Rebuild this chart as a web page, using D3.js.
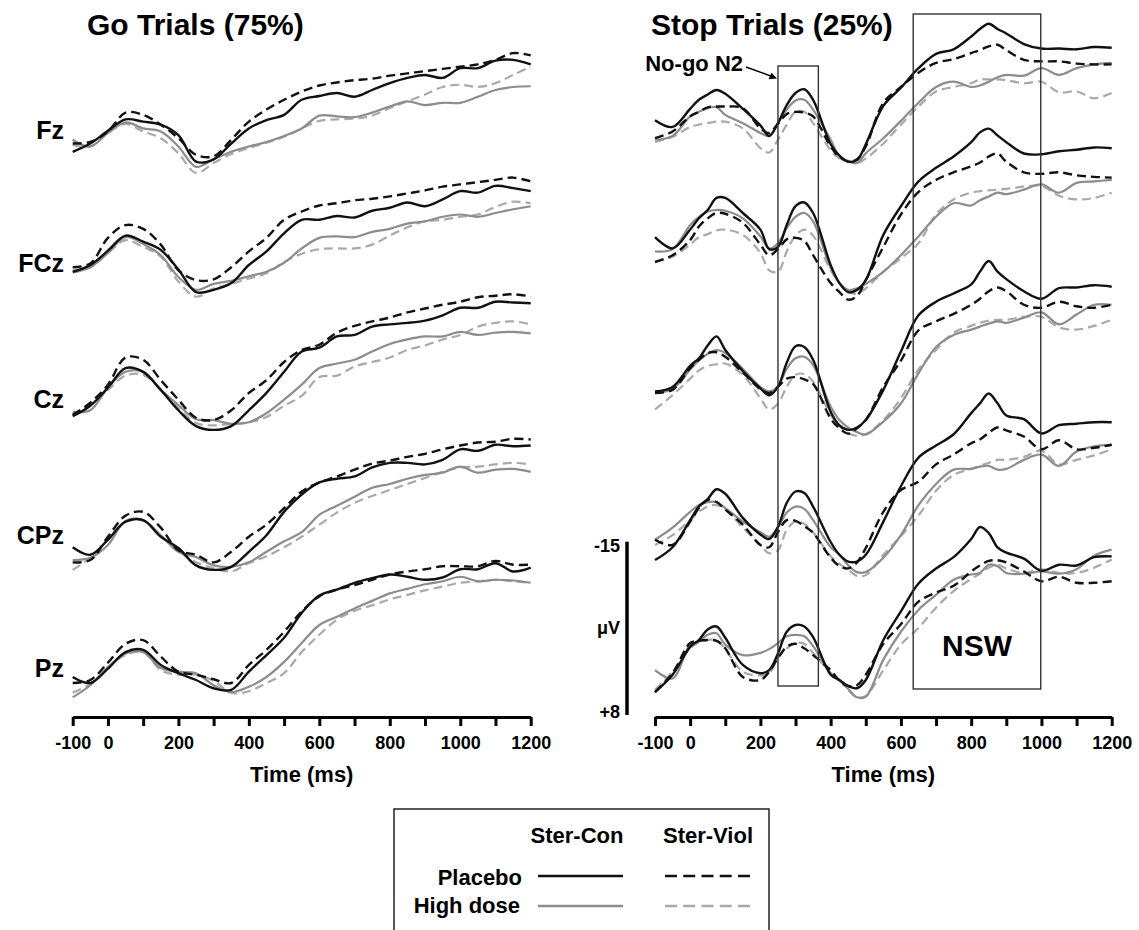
<!DOCTYPE html>
<html>
<head>
<meta charset="utf-8">
<script src="https://cdn.jsdelivr.net/npm/d3@7"></script>
<style>
body { margin: 0; background: #fff; }
text { font-family: "Liberation Sans", Arial, sans-serif; font-weight: bold; fill: #000; }
</style>
</head>
<body>
<svg id="chart" width="1139" height="930"></svg>
<script>
var electrodes = ["Fz", "FCz", "Cz", "CPz", "Pz"]

var goTimes = [-100, -50, 0, 50, 100, 150, 200, 250, 300, 350, 400, 450, 500, 550, 600,
    650, 700, 750, 800, 850, 900, 950, 1000, 1050, 1100, 1150, 1200]
var stopTimes = [-100, -50, 0, 25, 50, 75, 100, 150, 200, 225, 250, 275, 300, 325, 350,
    400, 425, 450, 475, 500, 550, 600, 650, 700, 750, 800, 825, 850, 875, 900,
    950, 1000, 1050, 1100, 1150, 1200]

// uV, one row per electrode (Fz, FCz, Cz, CPz, Pz); negative is drawn up
var goPlaceboCon = [
    [0.9, -0.2, -1.9, -3.4, -3.1, -2.7, -1.3, 2.2, 1.9, -0.2, -2.2, -3.3, -4.0, -6.0, -6.5, -6.9, -6.4, -7.3, -8.2, -8.9, -9.3, -8.9, -10.2, -10.2, -11.2, -11.3, -10.7],
    [0.9, 0, -1.9, -3.9, -3.1, -2.0, 0.6, 3.6, 3.3, 2.4, 0, -1.8, -4.2, -6.0, -6.0, -6.5, -6.3, -7.2, -7.6, -8.3, -7.8, -8.7, -9.8, -9.6, -10.5, -10.2, -9.8],
    [1.1, -0.3, -2.7, -5.3, -4.8, -2.4, 0.3, 2.4, 2.9, 2.4, 0.3, -2.0, -4.8, -7.5, -8.0, -9.5, -9.7, -10.8, -11.1, -11.3, -11.6, -12.3, -13.3, -13.3, -14.1, -14.0, -13.9],
    [0.3, 1.3, -0.7, -3.1, -3.3, -1.1, 0.4, 2.7, 3.3, 2.9, 0.9, -1.3, -4.4, -6.7, -8.3, -8.8, -9.1, -10.3, -10.9, -10.9, -10.7, -11.3, -12.7, -12.5, -13.3, -13.1, -13.2],
    [-0.8, 0, -1.9, -4.1, -4.4, -2.4, -1.3, -0.4, 0.7, 0.9, -1.5, -3.7, -6.0, -9.3, -11.6, -12.4, -13.3, -13.9, -14.4, -14.1, -13.7, -14.0, -15.1, -15.1, -15.9, -14.8, -15.3]
]
var goPlaceboViol = [
    [-0.2, -0.4, -1.8, -4.3, -4.0, -2.7, -0.9, 1.3, 1.5, -0.7, -3.1, -4.7, -6.0, -7.1, -7.9, -8.3, -8.6, -8.8, -9.2, -9.5, -9.8, -10.1, -10.4, -10.7, -11.3, -12.2, -11.9],
    [0.3, -0.2, -3.6, -5.3, -4.8, -2.7, 0.7, 2.0, 1.9, 0.3, -1.8, -3.6, -6.0, -7.1, -7.9, -8.2, -8.6, -8.8, -9.1, -9.5, -9.9, -10.4, -10.7, -11.0, -11.3, -11.6, -11.1],
    [0.9, -0.7, -3.1, -6.7, -6.4, -3.7, -1.1, 1.3, 1.6, 0.3, -2.0, -3.7, -6.1, -7.7, -8.4, -10.0, -10.9, -11.5, -12.0, -12.7, -13.2, -13.7, -14.1, -14.7, -14.9, -15.1, -14.8],
    [2.3, 2.0, -1.1, -3.9, -4.4, -2.3, 0.7, 1.3, 2.3, 0.9, -1.1, -2.7, -4.9, -7.1, -8.3, -9.1, -10.0, -10.8, -11.2, -11.7, -12.1, -12.7, -13.2, -13.6, -13.7, -14.1, -14.0],
    [0, -0.4, -2.7, -5.2, -5.7, -3.5, -1.5, -1.1, -0.5, 0, -2.4, -4.4, -6.8, -9.5, -11.5, -12.4, -13.0, -13.7, -14.4, -14.8, -15.1, -15.5, -15.5, -15.5, -16.2, -15.7, -15.7]
]
var goHighCon = [
    [-0.7, 0.2, -1.6, -3.0, -2.2, -1.8, 0.2, 2.9, 1.9, 0.9, 0.2, -0.4, -1.2, -2.2, -3.9, -3.8, -3.7, -4.3, -5.1, -5.8, -5.3, -5.6, -5.6, -6.4, -7.3, -7.7, -7.8],
    [1.0, 0.3, -1.6, -3.7, -2.8, -1.3, 1.6, 3.3, 2.5, 2.1, 1.5, 0.9, -0.3, -2.2, -3.6, -3.8, -3.7, -4.4, -4.8, -5.5, -5.8, -6.4, -6.7, -6.4, -6.9, -7.4, -7.8],
    [0.5, 0.3, -2.7, -4.8, -4.8, -2.4, -0.4, 1.5, 1.6, 2.1, 1.9, 0.7, -1.1, -3.1, -5.3, -5.9, -6.4, -7.5, -8.5, -9.1, -9.5, -9.5, -10.1, -9.7, -10.0, -10.1, -9.9],
    [2.0, 1.7, 0, -3.2, -3.3, -1.3, 0.9, 1.6, 2.7, 2.9, 2.3, 0.9, -0.5, -1.7, -4.0, -5.2, -6.4, -7.6, -8.1, -8.8, -9.3, -9.6, -10.4, -9.6, -10.0, -10.1, -9.7],
    [1.9, 0.3, -2.1, -3.9, -4.1, -2.0, -1.5, -1.3, 0.3, 1.2, 0.5, -0.8, -2.8, -5.3, -7.7, -8.8, -9.9, -10.9, -11.9, -12.5, -13.1, -13.5, -14.1, -13.5, -13.7, -13.6, -13.3]
]
var goHighViol = [
    [0, 0.2, -1.6, -2.8, -1.8, -0.9, 1.1, 3.7, 2.4, 1.2, 0.4, -0.3, -1.1, -2.2, -3.2, -3.4, -3.5, -3.9, -4.9, -5.8, -6.7, -7.7, -8.0, -7.7, -8.2, -9.3, -10.4],
    [0.7, 0.3, -1.6, -3.3, -2.4, -1.1, 2.2, 4.2, 3.1, 2.5, 1.8, 1.1, -0.4, -1.5, -2.1, -2.2, -2.2, -2.7, -3.9, -5.0, -5.8, -6.0, -6.4, -6.7, -7.7, -8.4, -8.2],
    [0.9, -0.4, -2.4, -4.3, -4.4, -2.5, 0, 2.0, 2.3, 2.1, 1.9, 1.2, -0.3, -1.6, -4.1, -4.3, -5.5, -6.1, -6.7, -7.7, -8.3, -9.1, -9.7, -10.8, -11.3, -11.5, -11.1],
    [3.3, 1.7, -0.7, -3.1, -3.2, -1.2, 0.8, 2.3, 3.1, 3.5, 2.4, 1.5, 0.3, -1.1, -2.7, -4.3, -5.6, -6.5, -7.3, -8.1, -8.9, -9.7, -10.3, -10.4, -10.7, -10.9, -10.7],
    [1.3, 0.1, -2.1, -3.7, -4.1, -1.7, -1.1, -1.1, -0.3, 1.3, 1.1, 0, -1.3, -4.1, -6.4, -8.4, -9.6, -10.3, -11.1, -11.7, -12.3, -12.8, -13.3, -13.5, -13.7, -13.5, -13.3]
]

var stopPlaceboCon = [
    [-3.3, -2.4, -4.8, -6.0, -6.7, -7.3, -6.8, -4.8, -2.6, -1.2, -2.9, -5.3, -6.9, -7.4, -6.0, -0.1, 1.4, 2.2, 2.0, -0.1, -5.2, -7.6, -10.2, -12.1, -12.7, -14.4, -15.4, -16.1, -15.4, -14.8, -13.4, -12.8, -12.8, -12.7, -13.0, -12.9],
    [-3.7, -2.2, -4.7, -6.2, -7.3, -8.9, -8.9, -6.9, -4.7, -2.1, -2.4, -5.3, -7.8, -8.3, -6.9, 0, 2.4, 3.6, 3.3, 2.0, -4.0, -7.8, -11.1, -12.9, -14.4, -16.3, -17.6, -18.1, -17.2, -16.3, -14.8, -14.7, -15.1, -15.3, -15.6, -15.5],
    [-2.2, -2.8, -5.6, -6.6, -8.3, -9.5, -7.7, -4.9, -2.6, -1.7, -2.8, -6.0, -8.2, -8.1, -6.4, 0.5, 2.3, 2.9, 2.6, 1.6, -2.4, -7.5, -12.3, -14.1, -15.2, -16.4, -18.1, -19.5, -18.1, -17.1, -15.5, -14.5, -15.9, -16.0, -16.3, -16.1],
    [2.0, 0.3, -3.3, -5.1, -6.1, -7.4, -6.8, -3.6, -1.4, -0.8, -2.4, -5.6, -7.1, -6.9, -5.1, -0.4, 1.3, 2.2, 2.2, 1.3, -3.1, -7.8, -11.6, -13.2, -14.7, -17.5, -18.8, -20.1, -18.8, -17.2, -16.7, -14.8, -15.9, -16.1, -16.3, -16.3],
    [1.2, -1.1, -4.8, -5.7, -7.1, -7.5, -6.0, -2.4, -1.3, -1.7, -3.9, -6.8, -7.7, -7.5, -6.1, -1.1, -0.4, 0.4, 0.7, -0.4, -5.7, -9.5, -13.2, -15.2, -16.7, -19.1, -20.7, -19.9, -18.0, -17.3, -16.5, -14.9, -15.7, -15.6, -16.7, -16.8]
]
var stopPlaceboViol = [
    [-0.9, -1.8, -3.8, -4.4, -5.0, -5.1, -5.1, -4.9, -2.2, -1.6, -2.8, -4.1, -4.4, -4.3, -3.8, 0.2, 1.6, 2.2, 1.9, 0.2, -5.6, -7.7, -9.6, -10.9, -11.4, -12.2, -12.6, -13.1, -13.3, -12.6, -11.3, -11.1, -11.1, -10.8, -10.7, -10.7],
    [-0.4, -1.3, -3.3, -5.1, -6.2, -6.9, -6.8, -5.6, -2.7, -1.3, -2.1, -3.4, -3.6, -3.2, -1.3, 2.4, 3.6, 4.6, 4.1, 2.0, -2.4, -6.7, -9.7, -11.3, -12.3, -13.1, -13.6, -14.4, -14.8, -13.7, -12.3, -12.1, -12.3, -11.9, -11.7, -11.6],
    [-2.0, -2.4, -5.3, -6.4, -7.3, -7.4, -6.8, -4.7, -2.5, -2.0, -2.8, -3.9, -4.1, -3.8, -3.2, 1.4, 2.7, 3.4, 2.7, 1.6, -2.8, -6.3, -10.3, -11.5, -12.5, -13.7, -14.5, -15.5, -16.0, -15.5, -13.7, -13.3, -14.1, -13.5, -13.3, -13.7],
    [-0.7, 0, -3.1, -4.9, -6.0, -5.7, -4.7, -2.7, 0, 0.3, -1.7, -3.3, -3.2, -2.5, -1.6, 1.7, 2.8, 3.1, 2.3, 0.4, -4.4, -7.3, -8.4, -10.7, -12.0, -13.5, -14.0, -14.9, -15.6, -15.2, -14.4, -12.7, -13.9, -12.7, -12.9, -13.3],
    [1.2, -1.3, -5.3, -5.6, -5.7, -5.6, -4.6, -0.8, -0.4, -1.5, -3.3, -4.8, -5.2, -4.6, -3.7, -1.7, -0.3, 0.4, 0.3, -1.1, -5.2, -7.8, -10.8, -12.0, -12.9, -14.8, -15.6, -16.2, -16.3, -16.0, -14.8, -13.5, -14.1, -13.3, -13.3, -13.5]
]
var stopHighCon = [
    [-0.7, -1.2, -3.8, -4.4, -4.9, -5.0, -4.0, -2.9, -1.6, -1.2, -2.9, -4.7, -5.9, -6.0, -4.7, -0.7, 1.5, 2.2, 2.4, 1.1, -0.9, -3.2, -5.6, -7.7, -8.4, -7.7, -7.9, -8.4, -9.0, -9.3, -9.2, -10.2, -9.3, -10.2, -10.7, -10.9],
    [-1.8, -2.1, -5.3, -6.4, -7.1, -7.3, -7.2, -6.2, -3.8, -2.2, -2.9, -4.9, -6.4, -6.9, -5.8, 0.4, 2.4, 3.3, 3.1, 2.5, 0.9, -1.3, -3.8, -6.4, -8.2, -7.9, -8.6, -9.1, -9.6, -9.4, -10.0, -10.7, -9.6, -10.9, -11.1, -11.3],
    [-2.0, -2.5, -5.1, -6.3, -7.2, -7.7, -7.3, -5.2, -2.8, -2.2, -2.9, -5.2, -6.6, -6.8, -5.7, -0.2, 1.6, 2.6, 3.2, 3.5, 1.8, -0.6, -4.6, -8.1, -9.7, -10.4, -10.8, -11.2, -11.5, -11.3, -12.0, -12.7, -11.1, -12.4, -13.7, -13.7],
    [-0.7, -2.3, -4.4, -5.3, -5.7, -5.7, -4.9, -3.1, -1.7, -1.1, -2.3, -4.3, -5.1, -4.8, -3.3, 0.3, 1.3, 2.7, 3.6, 3.6, 1.7, -1.3, -5.3, -8.1, -10.0, -10.1, -10.4, -10.5, -10.0, -10.1, -11.3, -12.0, -10.5, -12.4, -13.1, -13.3],
    [-1.7, -0.6, -5.1, -5.5, -6.4, -6.6, -5.1, -3.7, -4.0, -4.5, -5.3, -6.2, -6.4, -6.2, -4.9, -1.3, -0.4, 0.8, 1.9, 1.8, -3.1, -6.8, -9.7, -11.7, -13.7, -14.4, -14.6, -15.7, -15.5, -14.6, -14.5, -14.8, -14.5, -15.1, -16.9, -17.7]
]
var stopHighViol = [
    [-0.4, -1.1, -2.4, -2.7, -2.9, -3.1, -3.1, -2.2, 0.4, 1.0, -0.7, -2.7, -4.4, -4.4, -2.9, 0.7, 1.8, 2.1, 2.4, 1.8, -0.2, -2.7, -5.1, -7.1, -7.7, -8.2, -8.7, -8.7, -8.7, -8.6, -8.2, -8.4, -7.0, -7.1, -6.2, -6.9],
    [-0.4, -1.1, -2.7, -3.7, -4.1, -4.6, -4.7, -4.0, -1.6, 0.7, 0.9, -1.8, -3.9, -4.7, -3.9, 0.7, 2.4, 3.6, 3.8, 3.1, 0.9, -0.9, -2.9, -6.7, -8.7, -9.6, -9.8, -9.9, -10.0, -10.1, -10.4, -10.5, -9.2, -8.7, -8.9, -9.6],
    [0.2, -1.7, -3.9, -5.0, -5.6, -5.8, -5.9, -4.4, -1.3, 0.2, -0.6, -2.8, -4.4, -4.5, -3.5, 0.9, 2.4, 3.3, 3.7, 3.5, 1.6, -1.3, -5.1, -7.7, -10.0, -10.9, -11.3, -11.6, -11.7, -11.7, -12.1, -12.1, -10.7, -10.4, -10.9, -11.7],
    [0, -1.3, -3.3, -4.4, -5.1, -5.3, -4.7, -2.3, 0, 1.1, 0.7, -2.0, -3.1, -2.8, -1.7, 1.5, 2.5, 3.3, 4.1, 4.0, 1.3, -1.2, -3.9, -7.2, -9.3, -10.1, -10.5, -10.9, -11.3, -11.3, -11.7, -12.5, -10.7, -11.3, -11.9, -12.7],
    [0.9, -1.5, -4.6, -5.4, -5.7, -5.7, -4.5, -1.5, -1.0, -1.3, -3.3, -4.6, -5.3, -5.2, -4.0, -1.3, -0.3, 0.9, 1.9, 1.7, -1.7, -5.1, -7.3, -10.0, -12.2, -13.8, -14.5, -15.3, -15.7, -15.2, -14.6, -15.1, -14.6, -14.6, -15.3, -16.4]
]

var tickValues = [-100, 0, 100, 200, 300, 400, 500, 600, 700, 800, 900, 1000, 1100, 1200]
var tickLabels = [-100, 0, 200, 400, 600, 800, 1000, 1200]
var n2Window = [250, 365]
var nswWindow = [635, 998]
var scaleRange = [-15, 8]

var svg = d3.select("#chart")
var width = 1139
var axisY = 717
var rowBase = [145, 265, 408, 545, 683]
var labelY = [130, 263, 399, 535, 668]

var goX = d3.scaleLinear().domain([-100, 1200]).range([72.7, 530.7])
var stopX = d3.scaleLinear().domain([-100, 1200]).range([655, 1111.7])
var barY = d3.scaleLinear().domain(scaleRange).range([541.7, 715])
var pxPerUv = (barY(8) - barY(-15)) / 23

var styles = [
    {name: "highViol", color: "#a9a9a9", width: 2.2, dash: "9,5"},
    {name: "highCon", color: "#8c8c8c", width: 2.2, dash: null},
    {name: "placeboViol", color: "#111", width: 2.4, dash: "9,5"},
    {name: "placeboCon", color: "#111", width: 2.4, dash: null}
]

svg.append("rect").attr("width", width).attr("height", 930).attr("fill", "#fff")

function drawPanel(x, times, sets) {
    var g = svg.append("g")
    electrodes.forEach(function(name, i) {
        var y = d3.scaleLinear().domain([0, 1]).range([rowBase[i], rowBase[i] + pxPerUv])
        var line = d3.line()
            .x(function(d, j) { return x(times[j]) })
            .y(function(d) { return y(d) })
            .curve(d3.curveCatmullRom.alpha(0.5))
        sets.forEach(function(values, k) {
            var s = styles[k]
            g.append("path")
                .attr("d", line(values[i]))
                .attr("fill", "none")
                .attr("stroke", s.color)
                .attr("stroke-width", s.width)
                .attr("stroke-dasharray", s.dash)
                .attr("stroke-linejoin", "round")
        })
    })
}

function drawAxis(x) {
    var g = svg.append("g")
        .attr("transform", "translate(0," + axisY + ")")
        .call(d3.axisBottom(x)
            .tickValues(tickValues)
            .tickSize(9)
            .tickSizeOuter(0)
            .tickPadding(10)
            .tickFormat(function(d) { return tickLabels.indexOf(d) >= 0 ? d : "" }))
    g.attr("font-size", 18).attr("font-family", null)
    g.select(".domain").attr("stroke-width", 3.2).attr("stroke", "#000")
    g.selectAll(".tick line").attr("stroke-width", 3).attr("stroke", "#000")
    g.selectAll(".tick text").attr("fill", "#000")
    svg.append("text")
        .attr("x", (x.range()[0] + x.range()[1]) / 2)
        .attr("y", 782)
        .attr("text-anchor", "middle")
        .attr("font-size", 22)
        .text("Time (ms)")
}

drawPanel(goX, goTimes, [goHighViol, goHighCon, goPlaceboViol, goPlaceboCon])
drawPanel(stopX, stopTimes, [stopHighViol, stopHighCon, stopPlaceboViol, stopPlaceboCon])
drawAxis(goX)
drawAxis(stopX)

// electrode labels
svg.selectAll(".elabel")
    .data(electrodes).enter().append("text")
    .attr("class", "elabel")
    .attr("x", 64)
    .attr("y", function(d, i) { return labelY[i] })
    .attr("dy", "0.36em")
    .attr("text-anchor", "end")
    .attr("font-size", 25)
    .text(function(d) { return d })

// titles
svg.append("text").attr("x", 87).attr("y", 35).attr("font-size", 30).text("Go Trials (75%)")
svg.append("text").attr("x", 651).attr("y", 35).attr("font-size", 30).text("Stop Trials (25%)")

// analysis windows
svg.append("rect")
    .attr("x", stopX(n2Window[0])).attr("y", 66)
    .attr("width", stopX(n2Window[1]) - stopX(n2Window[0])).attr("height", 620)
    .attr("fill", "none").attr("stroke", "#333").attr("stroke-width", 1.4)
svg.append("rect")
    .attr("x", stopX(nswWindow[0])).attr("y", 14)
    .attr("width", stopX(nswWindow[1]) - stopX(nswWindow[0])).attr("height", 675)
    .attr("fill", "none").attr("stroke", "#333").attr("stroke-width", 1.4)
svg.append("text")
    .attr("x", (stopX(nswWindow[0]) + stopX(nswWindow[1])) / 2)
    .attr("y", 656).attr("text-anchor", "middle").attr("font-size", 30)
    .text("NSW")

svg.append("text").attr("x", 743).attr("y", 71).attr("text-anchor", "end")
    .attr("font-size", 22).text("No-go N2")
svg.append("line").attr("x1", 746).attr("y1", 67).attr("x2", 772).attr("y2", 76.5)
    .attr("stroke", "#000").attr("stroke-width", 1.4)
svg.append("path").attr("d", "M777,78.5 L768.5,79.2 L771.5,72.8 Z").attr("fill", "#000")

// uV scale bar
svg.append("line").attr("x1", 627).attr("x2", 627)
    .attr("y1", barY(scaleRange[0])).attr("y2", barY(scaleRange[1]))
    .attr("stroke", "#000").attr("stroke-width", 3.5)
svg.append("text").attr("x", 620).attr("y", barY(scaleRange[0]) + 4).attr("dy", "0.36em")
    .attr("text-anchor", "end").attr("font-size", 18).text("-15")
svg.append("text").attr("x", 620).attr("y", barY(scaleRange[1]) - 3).attr("dy", "0.36em")
    .attr("text-anchor", "end").attr("font-size", 18).text("+8")
svg.append("text").attr("x", 620).attr("y", 628).attr("dy", "0.36em")
    .attr("text-anchor", "end").attr("font-size", 18).text("\u03bcV")

// legend
var legend = svg.append("g")
legend.append("rect").attr("x", 394).attr("y", 809).attr("width", 375).attr("height", 140)
    .attr("fill", "none").attr("stroke", "#222").attr("stroke-width", 1.5)
legend.append("text").attr("x", 577).attr("y", 843).attr("text-anchor", "middle")
    .attr("font-size", 22).text("Ster-Con")
legend.append("text").attr("x", 708).attr("y", 843).attr("text-anchor", "middle")
    .attr("font-size", 22).text("Ster-Viol")
legend.append("text").attr("x", 522).attr("y", 885).attr("text-anchor", "end")
    .attr("font-size", 22).text("Placebo")
legend.append("text").attr("x", 520).attr("y", 913).attr("text-anchor", "end")
    .attr("font-size", 22).text("High dose")

var legendRows = [
    {y: 876, con: styles[3], viol: styles[2]},
    {y: 906, con: styles[1], viol: styles[0]}
]
legendRows.forEach(function(r) {
    legend.append("line").attr("x1", 538).attr("x2", 623).attr("y1", r.y).attr("y2", r.y)
        .attr("stroke", r.con.color).attr("stroke-width", r.con.width + 0.3)
    legend.append("line").attr("x1", 665).attr("x2", 750).attr("y1", r.y).attr("y2", r.y)
        .attr("stroke", r.viol.color).attr("stroke-width", r.viol.width + 0.3)
        .attr("stroke-dasharray", "12,6.25")
})
</script>
</body>
</html>
